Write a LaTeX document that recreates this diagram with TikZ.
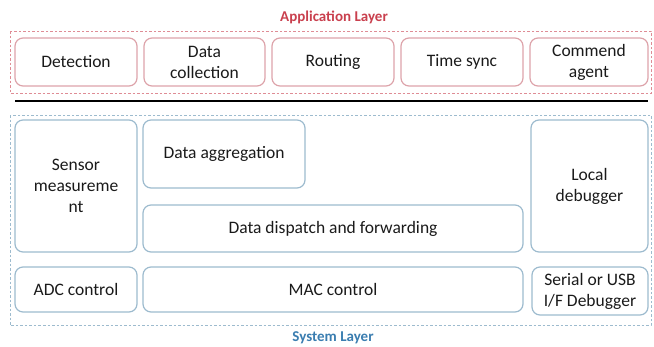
\documentclass[tikz,border=0pt]{standalone}
\usepackage{fontspec}
\setmainfont{Carlito}
\usetikzlibrary{positioning}

\definecolor{appred}{HTML}{C9404E}
\definecolor{appedge}{HTML}{DDA3AA}
\definecolor{sysblue}{HTML}{3A7DB0}
\definecolor{sysedge}{HTML}{9DBBCE}
\definecolor{txtgray}{HTML}{1A1A1A}

\begin{document}
\begin{tikzpicture}[
          x=1pt, y=-1pt,   % one unit per pixel of the layout
          every node/.style={align=center, text=txtgray, font=\fontsize{17.5}{21}\selectfont},
          appbox/.style={draw=appedge, line width=1.2pt, rounded corners=8pt, inner sep=2pt},
          sysbox/.style={draw=sysedge, line width=1.2pt, rounded corners=8pt, inner sep=2pt},
          layer/.style={line width=0.9pt, dash pattern=on 2.5pt off 2pt},
          title/.style={font=\fontsize{15}{16}\selectfont\bfseries}
        ]
        \useasboundingbox (0,0) rectangle (654,346);

        % application layer
        \draw[layer, draw=appred!60] (10,31) rectangle (651,93);
        \node[title, text=appred] (applabel) at (334,17) {Application Layer};
        \node[appbox, minimum width=122, minimum height=48] (detect) at (76,62) {Detection};
        \node[appbox, minimum width=121, minimum height=48] (collect) at (204.5,62) {Data\\collection};
        \node[appbox, minimum width=122, minimum height=48] (routing) at (333,62) {Routing};
        \node[appbox, minimum width=122, minimum height=48] (timesync) at (462,62) {Time sync};
        \node[appbox, minimum width=118, minimum height=48] (agent) at (589,62) {Commend\\agent};

        % separator
        \draw[line width=2.6pt, black] (15,101) -- (648,101);

        % system layer
        \draw[layer, draw=sysedge] (10,115) rectangle (651,325);
        \node[title, text=sysblue] (syslabel) at (333,338) {System Layer};
        \node[sysbox, minimum width=122, minimum height=132] (sensor) at (76,186) {Sensor\\measureme\\nt};
        \node[sysbox, minimum width=162, minimum height=68] (aggr) at (224,154) {Data aggregation};
        \node[sysbox, minimum width=380, minimum height=47] (dispatch) at (333,228.5) {Data dispatch and forwarding};
        \node[sysbox, minimum width=117, minimum height=132] (localdbg) at (589.5,186) {Local\\debugger};
        \node[sysbox, minimum width=122, minimum height=45] (adc) at (76,289.5) {ADC control};
        \node[sysbox, minimum width=380, minimum height=45] (mac) at (333,289.5) {MAC control};
        \node[sysbox, minimum width=116, minimum height=48] (serial) at (590,291) {Serial or USB\\I/F Debugger};
        \end{tikzpicture}
\end{document}
